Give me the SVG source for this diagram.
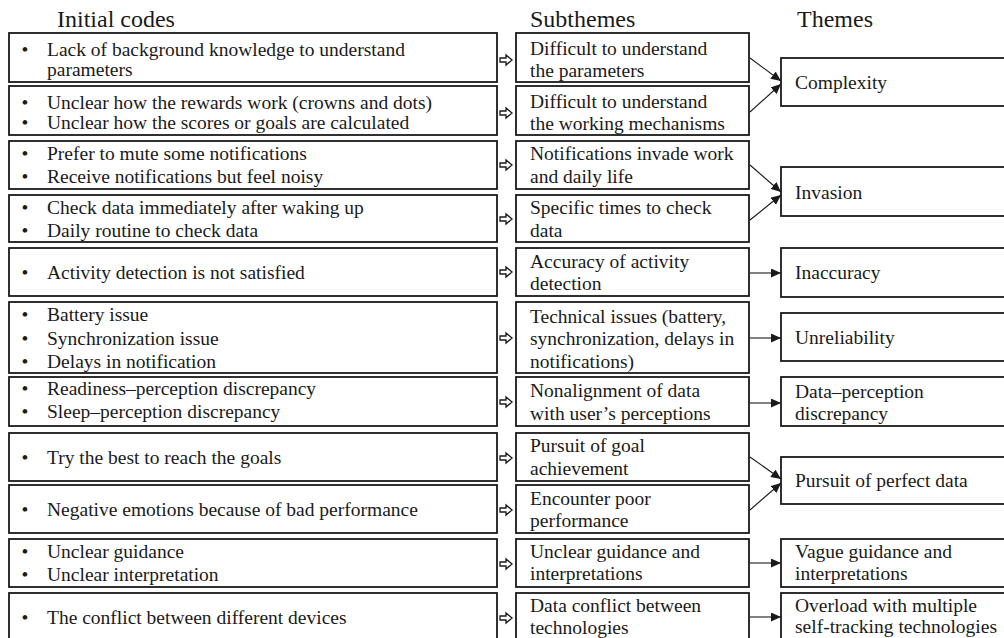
<svg xmlns="http://www.w3.org/2000/svg" width="1004" height="638" viewBox="0 0 1004 638">
<defs>
<style>
text{font-family:"Liberation Serif",serif;fill:#1a1a1a;font-size:19.5px}
.h{font-size:24px}
.box{fill:#fff;stroke:#1a1a1a;stroke-width:1.8}
.ha{fill:#fff;stroke:#1a1a1a;stroke-width:1.3;stroke-linejoin:miter}
.con{stroke:#1a1a1a;stroke-width:1.1;fill:none;marker-end:url(#ah)}
.b{text-anchor:middle}
</style>
<marker id="ah" markerUnits="userSpaceOnUse" markerWidth="11" markerHeight="9" refX="10" refY="4.5" orient="auto">
<path d="M0,0 L10,4.5 L0,9 z" fill="#1a1a1a"/>
</marker>
<polygon id="harrow" class="ha" points="0,-2 6,-2 6,-5 12,0 6,5 6,2 0,2"/>
</defs>
<rect width="1004" height="638" fill="#fff"/>

<g id="headers">
<text class="h" x="57" y="27">Initial codes</text>
<text class="h" x="530" y="27">Subthemes</text>
<text class="h" x="797" y="27">Themes</text>
</g>

<g id="codes">
<g id="code1"><rect class="box" x="9" y="33" width="488" height="49"/>
<text class="b" x="25" y="56">•</text><text x="47" y="56">Lack of background knowledge to understand</text><text x="47" y="76">parameters</text></g>
<g id="code2"><rect class="box" x="9" y="86" width="488" height="49"/>
<text class="b" x="25" y="109">•</text><text x="47" y="109">Unclear how the rewards work (crowns and dots)</text>
<text class="b" x="25" y="129">•</text><text x="47" y="129">Unclear how the scores or goals are calculated</text></g>
<g id="code3"><rect class="box" x="9" y="141" width="488" height="48"/>
<text class="b" x="25" y="160">•</text><text x="47" y="160">Prefer to mute some notifications</text>
<text class="b" x="25" y="183">•</text><text x="47" y="183">Receive notifications but feel noisy</text></g>
<g id="code4"><rect class="box" x="9" y="195" width="488" height="47"/>
<text class="b" x="25" y="214">•</text><text x="47" y="214">Check data immediately after waking up</text>
<text class="b" x="25" y="237">•</text><text x="47" y="237">Daily routine to check data</text></g>
<g id="code5"><rect class="box" x="9" y="248" width="488" height="48"/>
<text class="b" x="25" y="279">•</text><text x="47" y="279">Activity detection is not satisfied</text></g>
<g id="code6"><rect class="box" x="9" y="302" width="488" height="71"/>
<text class="b" x="25" y="321">•</text><text x="47" y="321">Battery issue</text>
<text class="b" x="25" y="345">•</text><text x="47" y="345">Synchronization issue</text>
<text class="b" x="25" y="368">•</text><text x="47" y="368">Delays in notification</text></g>
<g id="code7"><rect class="box" x="9" y="377" width="488" height="49"/>
<text class="b" x="25" y="395">•</text><text x="47" y="395">Readiness–perception discrepancy</text>
<text class="b" x="25" y="418">•</text><text x="47" y="418">Sleep–perception discrepancy</text></g>
<g id="code8"><rect class="box" x="9" y="433" width="488" height="48"/>
<text class="b" x="25" y="464">•</text><text x="47" y="464">Try the best to reach the goals</text></g>
<g id="code9"><rect class="box" x="9" y="485" width="488" height="48"/>
<text class="b" x="25" y="516">•</text><text x="47" y="516">Negative emotions because of bad performance</text></g>
<g id="code10"><rect class="box" x="9" y="539" width="488" height="48"/>
<text class="b" x="25" y="558">•</text><text x="47" y="558">Unclear guidance</text>
<text class="b" x="25" y="581">•</text><text x="47" y="581">Unclear interpretation</text></g>
<g id="code11"><rect class="box" x="9" y="593" width="488" height="50"/>
<text class="b" x="25" y="624">•</text><text x="47" y="624">The conflict between different devices</text></g>
</g>

<g id="hollow-arrows">
<use href="#harrow" x="500" y="60"/>
<use href="#harrow" x="500" y="113"/>
<use href="#harrow" x="500" y="165"/>
<use href="#harrow" x="500" y="219"/>
<use href="#harrow" x="500" y="272"/>
<use href="#harrow" x="500" y="338"/>
<use href="#harrow" x="500" y="402"/>
<use href="#harrow" x="500" y="458"/>
<use href="#harrow" x="500" y="510"/>
<use href="#harrow" x="500" y="564"/>
<use href="#harrow" x="500" y="618"/>
</g>

<g id="subthemes">
<g id="sub1"><rect class="box" x="516" y="33" width="233" height="49"/><text x="530" y="55">Difficult to understand</text><text x="530" y="77">the parameters</text></g>
<g id="sub2"><rect class="box" x="516" y="86" width="233" height="49"/><text x="530" y="108">Difficult to understand</text><text x="530" y="130">the working mechanisms</text></g>
<g id="sub3"><rect class="box" x="516" y="141" width="233" height="48"/><text x="530" y="160">Notifications invade work</text><text x="530" y="183">and daily life</text></g>
<g id="sub4"><rect class="box" x="516" y="195" width="233" height="47"/><text x="530" y="214">Specific times to check</text><text x="530" y="237">data</text></g>
<g id="sub5"><rect class="box" x="516" y="248" width="233" height="48"/><text x="530" y="268">Accuracy of activity</text><text x="530" y="290">detection</text></g>
<g id="sub6"><rect class="box" x="516" y="302" width="233" height="71"/><text x="530" y="323">Technical issues (battery,</text><text x="530" y="345">synchronization, delays in</text><text x="530" y="368">notifications)</text></g>
<g id="sub7"><rect class="box" x="516" y="377" width="233" height="49"/><text x="530" y="397">Nonalignment of data</text><text x="530" y="420">with user’s perceptions</text></g>
<g id="sub8"><rect class="box" x="516" y="433" width="233" height="48"/><text x="530" y="452">Pursuit of goal</text><text x="530" y="475">achievement</text></g>
<g id="sub9"><rect class="box" x="516" y="485" width="233" height="48"/><text x="530" y="505">Encounter poor</text><text x="530" y="527">performance</text></g>
<g id="sub10"><rect class="box" x="516" y="539" width="233" height="48"/><text x="530" y="558">Unclear guidance and</text><text x="530" y="580">interpretations</text></g>
<g id="sub11"><rect class="box" x="516" y="593" width="233" height="50"/><text x="530" y="612">Data conflict between</text><text x="530" y="634">technologies</text></g>
</g>

<g id="themes">
<g id="theme-complexity"><rect class="box" x="781" y="58" width="240" height="48"/><text x="795" y="89">Complexity</text></g>
<g id="theme-invasion"><rect class="box" x="781" y="167" width="240" height="49"/><text x="795" y="199">Invasion</text></g>
<g id="theme-inaccuracy"><rect class="box" x="781" y="248" width="240" height="49"/><text x="795" y="279">Inaccuracy</text></g>
<g id="theme-unreliability"><rect class="box" x="781" y="313" width="240" height="48"/><text x="795" y="344">Unreliability</text></g>
<g id="theme-discrepancy"><rect class="box" x="781" y="377" width="240" height="49"/><text x="795" y="398">Data–perception</text><text x="795" y="420">discrepancy</text></g>
<g id="theme-pursuit"><rect class="box" x="781" y="457" width="240" height="47"/><text x="795" y="487">Pursuit of perfect data</text></g>
<g id="theme-vague"><rect class="box" x="781" y="539" width="240" height="48"/><text x="795" y="558">Vague guidance and</text><text x="795" y="580">interpretations</text></g>
<g id="theme-overload"><rect class="box" x="781" y="593" width="240" height="50"/><text x="795" y="612">Overload with multiple</text><text x="795" y="633">self-tracking technologies</text></g>
</g>

<g id="connectors">
<line class="con" x1="750" y1="58" x2="781" y2="81"/>
<line class="con" x1="750" y1="112" x2="781" y2="84"/>
<line class="con" x1="750" y1="165" x2="781" y2="192"/>
<line class="con" x1="750" y1="220" x2="781" y2="195"/>
<line class="con" x1="750" y1="273" x2="781" y2="273"/>
<line class="con" x1="750" y1="338" x2="781" y2="338"/>
<line class="con" x1="750" y1="403" x2="781" y2="403"/>
<line class="con" x1="750" y1="457" x2="781" y2="479"/>
<line class="con" x1="750" y1="510" x2="781" y2="483"/>
<line class="con" x1="750" y1="563" x2="781" y2="563"/>
<line class="con" x1="750" y1="617" x2="781" y2="617"/>
</g>
</svg>
